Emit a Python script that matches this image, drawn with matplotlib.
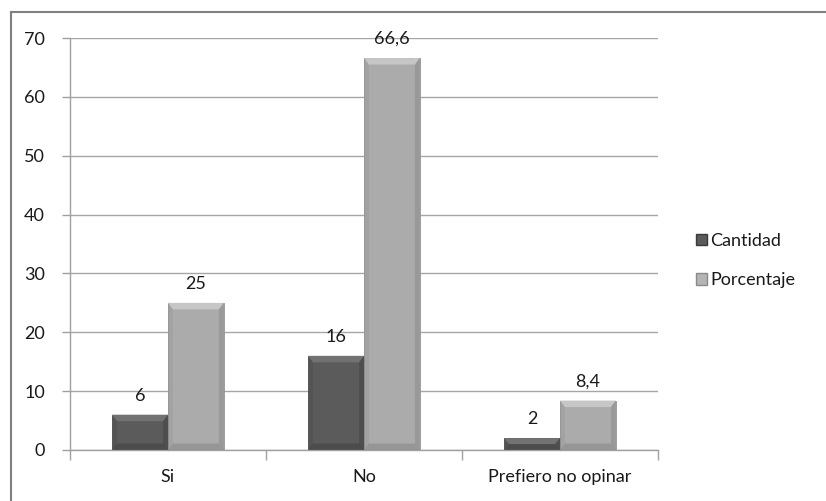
import matplotlib.pyplot as plt
from matplotlib.patches import Polygon, Patch
from matplotlib.lines import Line2D

categorias = ["Si", "No", "Prefiero no opinar"]
cantidad = [6, 16, 2]
porcentaje = [25, 66.6, 8.4]
etiquetas_cant = ["6", "16", "2"]
etiquetas_porc = ["25", "66,6", "8,4"]

plt.rcParams['font.family'] = ['Lato', 'DejaVu Sans']


def bevel(ax, bar, light, dark):
    # fake the beveled look of the original bars
    x0, y0 = bar.get_x(), bar.get_y()
    w, h = bar.get_width(), bar.get_height()
    bx = 0.025
    by = min(1.1, h / 2)
    x1, y1 = x0 + w, y0 + h
    ax.add_patch(Polygon([(x0, y1), (x1, y1), (x1 - bx, y1 - by), (x0 + bx, y1 - by)],
                         closed=True, facecolor=light, edgecolor='none', zorder=3))
    ax.add_patch(Polygon([(x0, y0), (x0 + bx, y0 + by), (x0 + bx, y1 - by), (x0, y1)],
                         closed=True, facecolor=dark, edgecolor='none', alpha=0.15, zorder=3))
    ax.add_patch(Polygon([(x1, y0), (x1 - bx, y0 + by), (x1 - bx, y1 - by), (x1, y1)],
                         closed=True, facecolor=dark, edgecolor='none', alpha=0.3, zorder=3))
    ax.add_patch(Polygon([(x0, y0), (x1, y0), (x1 - bx, y0 + by), (x0 + bx, y0 + by)],
                         closed=True, facecolor=dark, edgecolor='none', alpha=0.35, zorder=3))


fig = plt.figure(figsize=(8.26, 5.01), dpi=100)
ax = fig.add_axes([0.0847, 0.1018, 0.7119, 0.8222])

x = list(range(len(categorias)))
w = 0.285
b1 = ax.bar([i - w / 2 for i in x], cantidad, width=w, color='#5b5b5b',
            edgecolor='#505050', linewidth=0.6, zorder=2)
b2 = ax.bar([i + w / 2 for i in x], porcentaje, width=w, color='#ababab',
            edgecolor='#959595', linewidth=0.6, zorder=2)
for bar in b1:
    bevel(ax, bar, '#727272', '#303030')
for bar in b2:
    bevel(ax, bar, '#c6c6c6', '#707070')

for bar, t in zip(b1, etiquetas_cant):
    ax.annotate(t, (bar.get_x() + bar.get_width() / 2, bar.get_height()),
                xytext=(0, 8), textcoords='offset points', ha='center', va='bottom',
                fontsize=13, color='#1a1a1a')
for bar, t in zip(b2, etiquetas_porc):
    ax.annotate(t, (bar.get_x() + bar.get_width() / 2, bar.get_height()),
                xytext=(0, 8), textcoords='offset points', ha='center', va='bottom',
                fontsize=13, color='#1a1a1a')

ax.set_xlim(-0.5, 2.5)
ax.set_ylim(0, 70)
ax.set_yticks(range(0, 71, 10))
ax.yaxis.grid(True, color='#a6a6a6', linewidth=1)
ax.set_axisbelow(True)
ax.set_xticks(x)
ax.set_xticklabels(categorias)
ax.set_xticks([-0.5, 0.5, 1.5, 2.5], minor=True)
ax.tick_params(axis='x', which='major', length=0, pad=14, labelsize=13, labelcolor='#1a1a1a')
ax.tick_params(axis='x', which='minor', length=7, color='#a0a0a0', width=1)
ax.tick_params(axis='y', length=6, color='#a0a0a0', width=1, pad=12, labelsize=13, labelcolor='#1a1a1a')
for s in ['top', 'right']:
    ax.spines[s].set_visible(False)
for s in ['left', 'bottom']:
    ax.spines[s].set_color('#a0a0a0')
    ax.spines[s].set_linewidth(1)

handles = [Patch(facecolor='#5b5b5b', edgecolor='#3a3a3a', label='Cantidad'),
           Patch(facecolor='#b5b5b5', edgecolor='#8a8a8a', label='Porcentaje')]
fig.legend(handles=handles, loc='center left', bbox_to_anchor=(0.823, 0.48),
           frameon=False, fontsize=13, handlelength=0.6, handleheight=0.6,
           handletextpad=0.2, labelspacing=1.3, labelcolor='#1a1a1a')

# outer frame (left and top edges only visible)
fig.add_artist(Line2D([0.0135, 0.0135], [0, 0.976], transform=fig.transFigure,
                      color='#808080', linewidth=1.5))
fig.add_artist(Line2D([0.0135, 1], [0.976, 0.976], transform=fig.transFigure,
                      color='#808080', linewidth=1.5))

plt.savefig("out.png", dpi=100)
